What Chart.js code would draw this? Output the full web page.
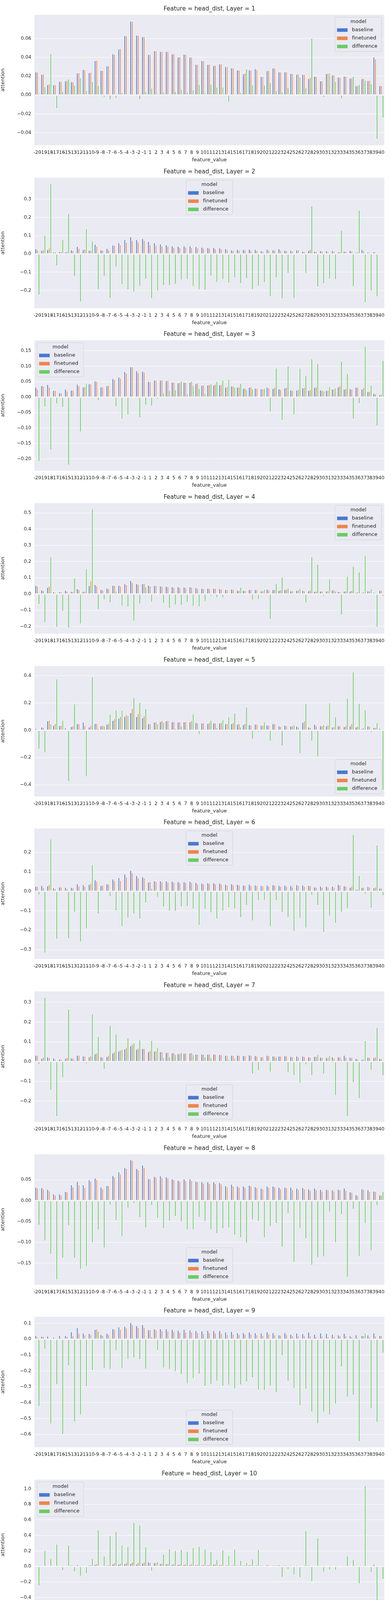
<!DOCTYPE html>
<html><head><meta charset="utf-8">
<script src="https://cdn.jsdelivr.net/npm/chart.js@4"></script>
<style>
body{margin:0;background:#fff;width:1000px;height:5000px;position:relative;}
.p{position:absolute;left:0;width:1000px;height:417px;}
</style>
</head><body>
<script>
const categories=["-20","-19","-18","-17","-16","-15","-13","-12","-11","-10","-9","-8","-7","-6","-5","-4","-3","-2","-1","1","2","3","4","5","6","7","8","9","10","11","12","13","14","15","16","17","18","19","20","21","22","23","24","25","26","27","28","29","30","31","32","33","34","35","36","37","38","39","40"];
const seriesNames=["baseline","finetuned","difference"];

const b1=[0.0245,0.022,0.011,0.011,0.0145,0.015,0.014,0.0233,0.027,0.0237,0.0365,0.0262,0.031,0.0437,0.049,0.063,0.0785,0.0635,0.062,0.043,0.047,0.0462,0.0462,0.0437,0.0403,0.0433,0.0403,0.0325,0.0365,0.0325,0.0313,0.033,0.0303,0.0288,0.0266,0.0224,0.0266,0.0278,0.0197,0.0259,0.0287,0.0246,0.0246,0.0228,0.022,0.022,0.0174,0.02,0.015,0.0228,0.0213,0.019,0.02,0.0178,0.0097,0.0174,0.0154,0.0403,0.01];
const f1=[0.0245,0.0225,0.012,0.011,0.0145,0.0155,0.014,0.0237,0.027,0.0242,0.037,0.0262,0.031,0.0432,0.0494,0.063,0.0785,0.0635,0.062,0.0433,0.047,0.0465,0.0462,0.0437,0.0407,0.0433,0.0403,0.0328,0.0365,0.0328,0.0317,0.0333,0.0302,0.0288,0.0266,0.0233,0.0266,0.0272,0.02,0.0263,0.0287,0.0246,0.0249,0.0228,0.0224,0.022,0.0186,0.02,0.015,0.0232,0.0217,0.019,0.02,0.0182,0.01,0.0178,0.0158,0.0382,0.0097];
const d1=[0.0017,0.0088,0.0437,-0.0145,0.0038,0.017,0.0105,0.0183,0.0047,0.0142,0.0105,-0.0025,-0.005,-0.0037,0.003,0.0002,-0.0012,-0.005,0.0035,0.0072,0.0017,0.0033,0.0013,0.0038,0.0058,0.003,0.0055,0.0112,0.0022,0.0116,0.0084,0.0084,-0.0075,0.0,0.0029,0.0278,0.0108,-0.0008,0.0108,0.0134,0.0047,0.0033,0.0084,-0.0015,0.0192,0.0079,0.0603,0.0003,-0.0025,0.0237,0.0145,-0.0042,0.0,0.02,0.0112,0.0158,0.012,-0.0472,-0.0244];

const b2=[0.029,0.020,0.024,0.011,0.013,0.011,0.022,0.041,0.024,0.020,0.053,0.022,0.030,0.048,0.061,0.078,0.093,0.078,0.084,0.068,0.061,0.055,0.050,0.044,0.042,0.044,0.044,0.040,0.037,0.035,0.035,0.033,0.029,0.022,0.024,0.024,0.026,0.024,0.018,0.026,0.022,0.028,0.020,0.020,0.022,0.015,0.018,0.015,0.018,0.018,0.018,0.011,0.015,0.020,0.009,0.024,0.011,0.013,0.003];
const f2=[0.022,0.022,0.033,0.011,0.013,0.014,0.018,0.031,0.028,0.020,0.042,0.020,0.022,0.046,0.050,0.064,0.074,0.066,0.074,0.050,0.048,0.044,0.042,0.035,0.035,0.037,0.035,0.033,0.031,0.031,0.028,0.028,0.024,0.020,0.020,0.022,0.020,0.020,0.015,0.020,0.020,0.020,0.018,0.015,0.022,0.013,0.024,0.013,0.015,0.013,0.015,0.013,0.015,0.015,0.011,0.018,0.009,0.009,0.003];
const d2=[-0.225,0.102,0.386,-0.065,0.079,0.222,-0.122,-0.262,0.139,0.070,-0.195,-0.122,-0.242,-0.072,-0.169,-0.196,-0.209,-0.176,-0.139,-0.245,-0.203,-0.173,-0.173,-0.166,-0.143,-0.141,-0.178,-0.195,-0.198,-0.121,-0.156,-0.141,-0.160,-0.130,-0.162,-0.134,-0.195,-0.176,-0.157,-0.235,-0.132,-0.246,-0.106,-0.244,0.0,-0.106,0.263,-0.181,-0.163,-0.137,-0.141,0.129,0.002,-0.178,0.239,-0.267,-0.203,-0.235,0.0];

const b3=[0.032,0.037,0.041,0.022,0.014,0.026,0.023,0.042,0.033,0.043,0.052,0.033,0.037,0.060,0.065,0.083,0.098,0.085,0.084,0.051,0.055,0.055,0.053,0.048,0.046,0.048,0.048,0.044,0.038,0.039,0.039,0.039,0.032,0.036,0.032,0.028,0.032,0.029,0.027,0.032,0.028,0.027,0.030,0.023,0.023,0.030,0.022,0.031,0.023,0.022,0.026,0.033,0.026,0.027,0.032,0.026,0.018,0.012,0.008];
const f3=[0.026,0.036,0.033,0.022,0.014,0.020,0.023,0.037,0.034,0.043,0.051,0.033,0.038,0.057,0.061,0.078,0.098,0.079,0.081,0.050,0.055,0.056,0.055,0.049,0.048,0.048,0.051,0.046,0.039,0.041,0.042,0.041,0.035,0.036,0.033,0.030,0.033,0.029,0.027,0.030,0.032,0.025,0.032,0.022,0.026,0.032,0.025,0.033,0.023,0.023,0.027,0.037,0.028,0.026,0.032,0.031,0.019,0.011,0.009];
const d3=[-0.208,-0.032,-0.171,-0.022,-0.033,-0.220,0.001,-0.113,0.044,-0.001,-0.012,0.0,0.004,-0.031,-0.072,-0.058,-0.003,-0.067,-0.026,-0.029,-0.007,0.014,0.022,0.024,0.052,0.010,0.038,0.028,0.011,0.043,0.051,0.055,0.058,0.032,0.045,0.024,0.027,0.003,0.029,-0.048,0.094,-0.075,0.100,-0.058,0.094,0.071,0.124,0.108,0.020,0.034,0.030,0.116,0.076,-0.071,-0.021,0.165,0.039,-0.093,0.119];

const b4=[0.053,0.026,0.041,0.013,0.013,0.023,0.016,0.033,0.016,0.053,0.058,0.028,0.036,0.053,0.055,0.063,0.084,0.063,0.063,0.055,0.053,0.050,0.048,0.045,0.045,0.043,0.045,0.040,0.035,0.035,0.035,0.033,0.028,0.030,0.023,0.023,0.028,0.028,0.020,0.030,0.028,0.023,0.028,0.020,0.023,0.023,0.020,0.016,0.018,0.018,0.026,0.016,0.018,0.018,0.010,0.010,0.020,0.010,0.023];
const f4=[0.048,0.021,0.050,0.011,0.013,0.018,0.016,0.028,0.018,0.082,0.050,0.026,0.033,0.055,0.050,0.058,0.071,0.060,0.065,0.050,0.053,0.048,0.045,0.040,0.040,0.040,0.043,0.035,0.033,0.035,0.035,0.030,0.028,0.030,0.023,0.023,0.028,0.028,0.020,0.026,0.028,0.026,0.030,0.020,0.026,0.020,0.026,0.018,0.018,0.020,0.026,0.013,0.020,0.023,0.013,0.013,0.020,0.007,0.023];
const d4=[-0.063,-0.175,0.230,-0.205,-0.106,-0.209,0.099,-0.185,0.158,0.526,-0.096,-0.035,-0.054,0.018,-0.076,-0.081,-0.166,-0.062,0.045,-0.050,-0.005,-0.057,-0.088,-0.067,-0.070,-0.052,-0.076,-0.079,-0.045,-0.015,-0.023,-0.024,-0.007,0.008,0.043,-0.005,-0.036,-0.034,0.030,-0.156,0.065,0.106,0.037,0.003,0.035,-0.055,0.231,0.184,-0.013,0.092,0.018,-0.130,0.110,0.171,0.137,0.240,0.033,-0.205,-0.015];

const b5=[0.013,0.024,0.069,0.036,0.033,0.017,0.027,0.048,0.060,0.024,0.050,0.033,0.045,0.071,0.088,0.102,0.129,0.100,0.091,0.048,0.060,0.064,0.069,0.062,0.060,0.062,0.062,0.057,0.053,0.050,0.053,0.053,0.048,0.048,0.045,0.041,0.041,0.045,0.036,0.038,0.048,0.031,0.036,0.031,0.031,0.057,0.024,0.043,0.033,0.031,0.024,0.033,0.027,0.031,0.024,0.013,0.031,0.019,0.013];
const f5=[0.010,0.021,0.074,0.050,0.036,0.007,0.033,0.048,0.036,0.036,0.050,0.036,0.050,0.083,0.102,0.114,0.160,0.122,0.105,0.048,0.062,0.071,0.071,0.064,0.062,0.064,0.071,0.053,0.053,0.057,0.053,0.057,0.050,0.057,0.048,0.050,0.038,0.045,0.038,0.036,0.048,0.028,0.033,0.033,0.024,0.069,0.021,0.033,0.033,0.038,0.027,0.033,0.033,0.048,0.031,0.017,0.031,0.021,0.008];
const d5=[-0.138,-0.165,0.048,0.376,0.074,-0.375,0.193,0.013,-0.342,0.391,0.013,0.031,0.117,0.150,0.146,0.108,0.238,0.204,0.158,0.0,0.048,0.060,0.013,0.013,0.031,0.013,0.120,-0.032,0.0,0.074,0.019,0.076,0.100,0.126,0.024,0.169,-0.066,-0.017,0.062,-0.080,0.010,-0.115,-0.012,0.040,-0.171,0.196,-0.080,-0.194,0.041,0.201,0.100,-0.012,0.235,0.428,0.198,0.151,-0.019,0.054,-0.440];

const b6=[0.026,0.030,0.028,0.018,0.022,0.020,0.020,0.038,0.034,0.036,0.059,0.030,0.038,0.063,0.071,0.089,0.107,0.081,0.075,0.048,0.054,0.054,0.054,0.052,0.050,0.050,0.052,0.046,0.042,0.044,0.044,0.042,0.036,0.038,0.036,0.032,0.036,0.032,0.030,0.032,0.034,0.030,0.032,0.030,0.034,0.032,0.030,0.022,0.026,0.026,0.026,0.036,0.028,0.020,0.010,0.020,0.024,0.018,0.016];
const f6=[0.026,0.020,0.036,0.014,0.022,0.014,0.018,0.028,0.026,0.042,0.052,0.032,0.038,0.056,0.056,0.075,0.095,0.069,0.069,0.050,0.052,0.050,0.048,0.046,0.044,0.046,0.046,0.038,0.038,0.040,0.038,0.038,0.032,0.034,0.032,0.030,0.030,0.030,0.028,0.026,0.032,0.026,0.026,0.022,0.030,0.026,0.030,0.020,0.020,0.022,0.022,0.032,0.026,0.026,0.012,0.020,0.022,0.022,0.016];
const d6=[-0.019,-0.318,0.270,-0.246,0.0,-0.244,-0.107,-0.260,-0.193,0.138,-0.117,0.0,-0.028,-0.101,-0.182,-0.139,-0.117,-0.143,-0.060,0.016,-0.031,-0.081,-0.101,-0.103,-0.081,-0.079,-0.091,-0.175,-0.093,-0.111,-0.142,-0.101,-0.085,-0.091,-0.135,-0.073,-0.152,-0.048,-0.046,-0.181,-0.048,-0.109,-0.134,-0.207,-0.138,-0.189,-0.020,-0.073,-0.211,-0.128,-0.165,-0.107,-0.089,0.292,0.082,-0.016,-0.087,0.238,-0.022];

const b7=[0.032,0.016,0.024,0.018,0.012,0.016,0.018,0.032,0.028,0.024,0.040,0.024,0.026,0.044,0.054,0.064,0.080,0.062,0.066,0.050,0.052,0.050,0.046,0.044,0.040,0.042,0.044,0.038,0.038,0.038,0.038,0.036,0.032,0.032,0.032,0.030,0.034,0.030,0.024,0.032,0.028,0.028,0.030,0.026,0.028,0.028,0.024,0.026,0.022,0.020,0.024,0.024,0.032,0.022,0.016,0.012,0.022,0.020,0.016];
const f7=[0.032,0.022,0.020,0.012,0.012,0.022,0.018,0.032,0.028,0.030,0.044,0.022,0.032,0.050,0.058,0.072,0.088,0.068,0.066,0.056,0.056,0.050,0.048,0.046,0.042,0.044,0.046,0.038,0.038,0.040,0.038,0.036,0.032,0.032,0.032,0.030,0.032,0.028,0.026,0.030,0.028,0.028,0.028,0.024,0.024,0.026,0.022,0.026,0.022,0.022,0.018,0.024,0.022,0.020,0.012,0.012,0.022,0.024,0.014];
const d7=[-0.015,0.325,-0.145,-0.278,-0.081,0.266,0.010,0.0,-0.011,0.241,0.128,-0.039,0.183,0.140,0.062,0.120,0.095,0.110,0.0,0.108,0.072,0.020,0.024,0.036,0.046,0.004,0.036,0.006,0.024,0.020,0.002,-0.008,0.012,0.016,0.0,0.006,-0.063,-0.045,0.0,-0.053,0.022,0.004,-0.057,-0.071,-0.110,-0.017,-0.071,0.036,-0.063,0.032,-0.172,0.012,-0.277,-0.106,-0.188,0.106,-0.043,0.172,-0.071];

const b8=[0.032,0.031,0.027,0.016,0.016,0.022,0.038,0.046,0.038,0.050,0.054,0.032,0.036,0.060,0.069,0.079,0.098,0.077,0.085,0.053,0.058,0.059,0.057,0.052,0.049,0.052,0.052,0.046,0.045,0.045,0.045,0.043,0.036,0.039,0.035,0.035,0.037,0.033,0.030,0.035,0.035,0.032,0.032,0.032,0.030,0.031,0.028,0.030,0.027,0.027,0.026,0.027,0.030,0.021,0.014,0.028,0.026,0.023,0.013];
const f8=[0.030,0.028,0.023,0.013,0.013,0.021,0.033,0.038,0.032,0.046,0.050,0.028,0.036,0.057,0.064,0.077,0.097,0.074,0.079,0.052,0.056,0.055,0.054,0.050,0.046,0.048,0.048,0.045,0.042,0.041,0.041,0.040,0.033,0.035,0.032,0.032,0.035,0.031,0.028,0.032,0.033,0.028,0.031,0.027,0.027,0.028,0.024,0.026,0.023,0.026,0.023,0.026,0.025,0.020,0.012,0.027,0.022,0.022,0.013];
const d8=[-0.059,-0.097,-0.129,-0.190,-0.138,-0.060,-0.138,-0.165,-0.159,-0.101,-0.070,-0.114,-0.011,-0.048,-0.087,-0.018,-0.007,-0.041,-0.066,-0.012,-0.042,-0.067,-0.049,-0.038,-0.051,-0.070,-0.070,-0.040,-0.050,-0.070,-0.079,-0.068,-0.066,-0.083,-0.089,-0.102,-0.046,-0.050,-0.089,-0.062,-0.055,-0.112,-0.031,-0.148,-0.068,-0.092,-0.155,-0.137,-0.135,-0.028,-0.101,-0.033,-0.184,-0.021,-0.134,-0.055,-0.121,-0.012,0.022];

const b9=[0.023,0.018,0.020,0.013,0.023,0.023,0.047,0.072,0.039,0.037,0.062,0.029,0.037,0.066,0.077,0.081,0.105,0.085,0.091,0.060,0.064,0.066,0.066,0.062,0.056,0.062,0.058,0.054,0.052,0.056,0.054,0.054,0.045,0.049,0.041,0.041,0.045,0.041,0.039,0.047,0.041,0.027,0.041,0.031,0.039,0.035,0.045,0.031,0.039,0.037,0.031,0.027,0.037,0.021,0.027,0.023,0.027,0.039,0.023];
const f9=[0.014,0.018,0.009,0.009,0.009,0.018,0.021,0.037,0.027,0.029,0.064,0.023,0.029,0.062,0.062,0.072,0.091,0.072,0.074,0.060,0.060,0.054,0.052,0.050,0.044,0.045,0.045,0.042,0.037,0.041,0.039,0.037,0.029,0.031,0.029,0.031,0.033,0.027,0.025,0.033,0.027,0.025,0.029,0.021,0.021,0.021,0.021,0.014,0.019,0.017,0.017,0.021,0.021,0.014,0.010,0.023,0.014,0.019,0.021];
const d9=[-0.423,-0.063,-0.535,-0.287,-0.600,-0.167,-0.520,-0.477,-0.299,-0.196,0.050,-0.183,-0.190,-0.071,-0.183,-0.128,-0.117,-0.130,-0.189,0.017,-0.071,-0.181,-0.190,-0.204,-0.222,-0.281,-0.249,-0.220,-0.296,-0.286,-0.264,-0.296,-0.290,-0.313,-0.288,-0.270,-0.243,-0.320,-0.323,-0.295,-0.336,-0.105,-0.266,-0.310,-0.420,-0.315,-0.458,-0.533,-0.460,-0.478,-0.409,-0.175,-0.364,-0.352,-0.645,0.039,-0.437,-0.523,-0.088];

const b10=[0.013,0.007,0.013,0.007,0.013,0.007,0.017,0.022,0.013,0.017,0.027,0.013,0.017,0.032,0.032,0.037,0.037,0.032,0.042,0.057,0.047,0.037,0.032,0.027,0.027,0.027,0.027,0.022,0.022,0.022,0.027,0.022,0.017,0.017,0.017,0.017,0.022,0.017,0.017,0.022,0.017,0.022,0.017,0.017,0.017,0.013,0.017,0.013,0.013,0.013,0.013,0.007,0.013,0.013,0.007,0.007,0.013,0.027,0.007];
const f10=[0.013,0.013,0.013,0.013,0.013,0.013,0.017,0.017,0.013,0.022,0.037,0.013,0.022,0.047,0.042,0.052,0.057,0.052,0.057,0.052,0.052,0.042,0.037,0.037,0.032,0.032,0.037,0.027,0.027,0.027,0.032,0.027,0.022,0.022,0.017,0.022,0.022,0.022,0.017,0.022,0.017,0.017,0.017,0.013,0.013,0.017,0.013,0.013,0.013,0.013,0.013,0.007,0.017,0.013,0.002,0.017,0.013,0.013,0.007];
const d10=[-0.250,0.205,0.104,0.289,-0.055,0.276,-0.070,-0.126,-0.095,0.104,0.471,0.136,0.400,0.454,0.279,0.259,0.566,0.536,0.254,-0.060,0.062,0.158,0.229,0.207,0.219,0.198,0.244,0.259,0.224,0.193,0.087,0.214,0.141,0.224,0.077,0.052,0.097,0.219,0.012,-0.013,0.022,-0.140,-0.040,-0.110,-0.146,0.460,-0.195,0.365,-0.074,-0.050,-0.047,-0.013,0.134,0.087,-0.225,1.044,-0.080,-0.487,-0.166];

const b11=[0.014,0.054,0.024,0.007,0.022,0.027,0.022,0.027,0.043,0.046,0.035,0.024,0.030,0.054,0.054,0.065,0.084,0.072,0.065,0.043,0.046,0.046,0.046,0.043,0.040,0.040,0.040,0.038,0.035,0.035,0.035,0.030,0.027,0.027,0.024,0.024,0.024,0.024,0.022,0.022,0.024,0.024,0.018,0.022,0.022,0.030,0.022,0.030,0.018,0.018,0.022,0.024,0.022,0.018,0.011,0.011,0.014,0.011,0.007];
const f11=[0.014,0.014,0.014,0.007,0.007,0.011,0.011,0.024,0.022,0.035,0.046,0.022,0.027,0.050,0.046,0.058,0.074,0.058,0.077,0.046,0.046,0.043,0.040,0.038,0.035,0.035,0.035,0.030,0.032,0.030,0.027,0.027,0.022,0.024,0.018,0.022,0.022,0.018,0.018,0.018,0.018,0.022,0.018,0.014,0.014,0.014,0.018,0.011,0.011,0.014,0.011,0.014,0.014,0.011,0.004,0.011,0.007,0.007,0.007];
const d11=[0.004,-0.658,-0.330,0.0,-0.540,-0.550,-0.376,-0.141,-0.463,-0.250,0.334,-0.124,-0.098,-0.098,-0.132,-0.096,-0.092,-0.157,0.218,0.040,-0.016,-0.060,-0.112,-0.108,-0.137,-0.150,-0.124,-0.142,-0.106,-0.106,-0.141,-0.155,-0.132,-0.154,-0.202,-0.078,-0.112,-0.190,-0.072,-0.132,-0.184,-0.122,-0.078,-0.258,-0.293,-0.452,-0.176,-0.586,-0.336,-0.260,-0.365,-0.372,-0.163,-0.293,-0.508,0.0,-0.336,-0.206,0.270];

const b12=[0.023,0.020,0.014,0.023,0.018,0.018,0.027,0.040,0.034,0.034,0.055,0.027,0.030,0.055,0.061,0.068,0.078,0.068,0.084,0.049,0.055,0.055,0.049,0.045,0.040,0.042,0.042,0.036,0.036,0.036,0.036,0.036,0.030,0.030,0.030,0.028,0.030,0.028,0.027,0.027,0.028,0.018,0.027,0.020,0.021,0.023,0.027,0.023,0.023,0.023,0.020,0.018,0.025,0.016,0.010,0.018,0.018,0.023,0.012];
const f12=[0.016,0.017,0.012,0.012,0.009,0.012,0.016,0.023,0.021,0.025,0.038,0.020,0.029,0.047,0.047,0.059,0.070,0.059,0.070,0.049,0.049,0.045,0.042,0.038,0.034,0.036,0.036,0.032,0.028,0.028,0.028,0.028,0.023,0.025,0.023,0.021,0.023,0.021,0.018,0.020,0.021,0.018,0.020,0.016,0.016,0.018,0.018,0.014,0.012,0.016,0.014,0.020,0.018,0.012,0.007,0.014,0.009,0.012,0.010];
const d12=[-0.296,-0.089,-0.071,-0.468,-0.438,-0.281,-0.408,-0.402,-0.350,-0.264,-0.272,-0.243,-0.070,-0.127,-0.205,-0.128,-0.086,-0.126,-0.171,-0.004,-0.081,-0.171,-0.142,-0.142,-0.153,-0.146,-0.126,-0.112,-0.186,-0.202,-0.202,-0.198,-0.230,-0.199,-0.219,-0.228,-0.230,-0.243,-0.288,-0.232,-0.243,0.018,-0.293,-0.196,-0.222,-0.197,-0.285,-0.366,-0.404,-0.274,-0.328,0.043,-0.247,-0.286,-0.302,-0.167,-0.430,-0.473,-0.241];

const layers=[1,2,3,4,5,6,7,8,9,10,11,12];
const baselineSets=[b1,b2,b3,b4,b5,b6,b7,b8,b9,b10,b11,b12];
const finetunedSets=[f1,f2,f3,f4,f5,f6,f7,f8,f9,f10,f11,f12];
const differenceSets=[d1,d2,d3,d4,d5,d6,d7,d8,d9,d10,d11,d12];

// axis settings (layout)
const yMins=[-0.0534,-0.297,-0.238,-0.244,-0.485,-0.348,-0.305,-0.202,-0.681,-0.563,-0.704,-0.503];
const yMaxs=[0.0851,0.417,0.184,0.561,0.470,0.323,0.355,0.111,0.141,1.118,0.380,0.111];
const ySteps=[0.02,0.1,0.05,0.1,0.2,0.1,0.1,0.05,0.1,0.2,0.2,0.1];
const legendLocs=['ur','uc','ul','ur','lr','uc','lc','lc','lc','ul','ur','lc'];

const colors=['#4878d0','#ee854a','#6acc64'];
const FONT='DejaVu Sans';
const TXT='#262626';
const PH=416.67;

const bgPlugin={id:'bg',beforeDraw(c){const a=c.chartArea,x=c.ctx;x.save();x.fillStyle='#eaeaf2';x.fillRect(a.left,a.top,a.right-a.left,a.bottom-a.top);x.restore();}};
const decorPlugin={id:'decor',afterDraw(c){
  const o=c.options.plugins.decor, a=c.chartArea, ctx=c.ctx;
  ctx.save();
  ctx.fillStyle=TXT;ctx.font='15px "'+FONT+'"';ctx.textAlign='center';ctx.textBaseline='middle';
  ctx.fillText(o.title,(a.left+a.right)/2,23);
  const w=119,h=88;
  const loc=o.loc;
  let x=loc[1]==='r'?a.right-7-w:(loc[1]==='l'?a.left+7:(a.left+a.right)/2-w/2);
  let y=loc[0]==='u'?a.top+6:a.bottom-7-h;
  ctx.beginPath();
  if(ctx.roundRect)ctx.roundRect(x,y,w,h,3);else ctx.rect(x,y,w,h);
  ctx.fillStyle='rgba(234,234,242,0.85)';ctx.fill();
  ctx.strokeStyle='#cfcfd6';ctx.lineWidth=1;ctx.stroke();
  ctx.fillStyle=TXT;ctx.font='13px "'+FONT+'"';ctx.textAlign='center';
  ctx.fillText('model',x+w/2,y+12);
  ctx.textAlign='left';
  for(let i=0;i<3;i++){
    const yy=y+33+i*21;
    ctx.fillStyle=colors[i];ctx.fillRect(x+5,yy-4.5,27,9);
    ctx.fillStyle=TXT;ctx.fillText(seriesNames[i],x+43,yy);
  }
  ctx.restore();
}};

function fmt(v,step){const d=(step<0.1&&Math.abs(step*10-Math.round(step*10))>1e-9)?2:(step===0.05||step===0.02?2:1);const s=Math.abs(v).toFixed(d);return (v< -1e-12?'\u2212':'')+s;}

layers.forEach((L,i)=>{
  const div=document.createElement('div');div.className='p';div.style.top=(i*PH)+'px';
  const cv=document.createElement('canvas');div.appendChild(cv);document.body.appendChild(div);
  const step=ySteps[i];
  new Chart(cv,{
    type:'bar',
    data:{labels:categories,datasets:[
      {label:seriesNames[0],data:baselineSets[i],backgroundColor:colors[0]},
      {label:seriesNames[1],data:finetunedSets[i],backgroundColor:colors[1]},
      {label:seriesNames[2],data:differenceSets[i],backgroundColor:colors[2]}
    ]},
    options:{
      responsive:true,maintainAspectRatio:false,animation:false,devicePixelRatio:1,
      layout:{padding:{top:38,right:17,left:0,bottom:0}},
      datasets:{bar:{categoryPercentage:0.8,barPercentage:1.0,borderColor:'#ffffff',borderWidth:1,borderSkipped:false}},
      plugins:{legend:{display:false},tooltip:{enabled:false},decor:{title:'Feature = head_dist, Layer = '+L,loc:legendLocs[i]}},
      scales:{
        x:{grid:{display:false},border:{display:false},
           ticks:{autoSkip:false,maxRotation:0,minRotation:0,color:TXT,font:{family:FONT,size:12},padding:4},
           title:{display:true,text:'feature_value',color:TXT,font:{family:FONT,size:13},padding:{top:0,bottom:0}},
           afterFit(s){s.height=45;}},
        y:{min:yMins[i],max:yMaxs[i],
           grid:{color:'#ffffff',lineWidth:1,drawTicks:false},border:{display:false},
           ticks:{stepSize:step,color:TXT,font:{family:FONT,size:12},padding:8,callback:(v)=>fmt(v,step)},
           afterBuildTicks(s){s.ticks=s.ticks.filter(t=>Math.abs(t.value/step-Math.round(t.value/step))<1e-6);},
           title:{display:true,text:'attention',color:TXT,font:{family:FONT,size:13},padding:{top:0,bottom:4}},
           afterFit(s){s.width=88;}}
      }
    },
    plugins:[bgPlugin,decorPlugin]
  });
});
</script>
</body></html>
